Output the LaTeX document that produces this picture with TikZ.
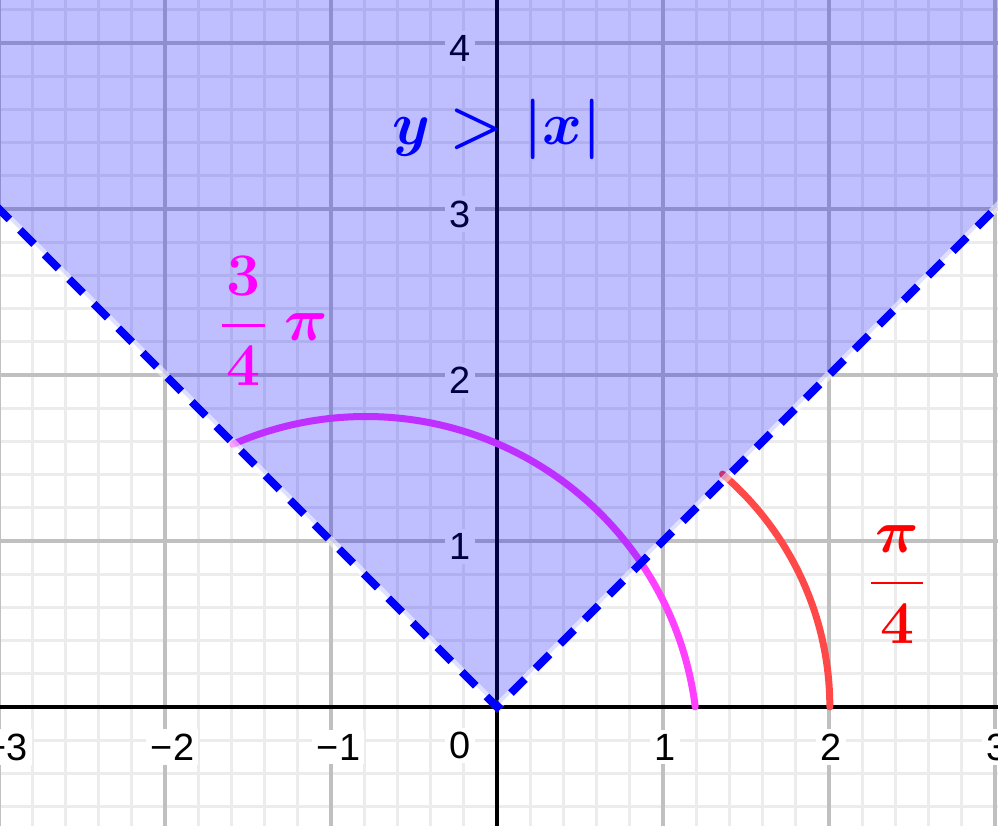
\documentclass[tikz,border=0pt]{standalone}
\usepackage{amsmath}
\usepackage{fontspec}
\setmainfont{Liberation Sans}
\definecolor{gridminor}{RGB}{236,236,236}
\definecolor{gridmajor}{RGB}{192,192,192}
\definecolor{arcmagenta}{RGB}{255,64,255}
\definecolor{arcred}{RGB}{255,72,72}
\definecolor{labmagenta}{RGB}{255,0,255}
\definecolor{labred}{RGB}{255,0,0}
\definecolor{labblue}{RGB}{0,0,255}

\begin{document}
\begin{tikzpicture}[x=2cm, y=2cm,
  minorgrid/.style={draw=gridminor, line width=1pt},
  majorgrid/.style={draw=gridmajor, line width=1.1pt},
  axisline/.style={draw=black, line width=1.1pt},
  ticklab/.style={fill=white, inner sep=1.5pt, font=\fontsize{13}{15}\selectfont},
  mathlab/.style={inner sep=0pt, font=\fontsize{20.5}{24}\selectfont\boldmath},
  curve/.style={line width=2.4pt, line cap=round},
  boundary/.style={draw=labblue, line width=2.7pt, dash pattern=on 6.8pt off 5.1pt}]
  \useasboundingbox (-2.994,-0.711) rectangle (3.018,4.259);
  \clip (-2.994,-0.711) rectangle (3.018,4.259);

  % grid and axes
  \draw[minorgrid, step=0.2] (-3.2,-0.8) grid (3.2,4.4);
  \draw[majorgrid, step=1] (-3.2,-0.8) grid (3.2,4.4);
  \draw[axisline] (-3.2,0) -- (3.2,0);
  \draw[axisline] (0,-0.8) -- (0,4.4);

  \foreach \i/\t in {-3/−3, -2/−2, -1/−1}
    \node[ticklab] (xl\i) at (\i+0.045,-0.241) {\t};
  \foreach \i in {1,2,3}
    \node[ticklab] (xl\i) at (\i+0.012,-0.241) {\i};
  \node[ticklab] (origin) at (-0.223,-0.233) {0};
  \foreach \i in {1,...,4}
    \node[ticklab] (yl\i) at (-0.223,\i-0.032) {\i};

  % the two arcs
  \draw[curve, draw=arcmagenta] ([shift={(-0.79,-0.25)}]7.2:2) arc[start angle=7.2, end angle=113.6, radius=2];
  \draw[curve, draw=arcred] ([shift={(0.16,0)}]0:1.845) arc[start angle=0, end angle=49.5, radius=1.845];

  % region y > |x|
  \fill[labblue, fill opacity=0.25] (0,0) -- (-4.5,4.5) -- (4.5,4.5) -- cycle;
  \draw[white, opacity=0.5, line width=2.7pt] (-4.5,4.5) -- (0,0) -- (4.5,4.5);
  \draw[boundary] (-4.5,4.5) -- (0,0) -- (4.5,4.5);

  \node[mathlab, text=labblue] (ineq) at (0,3.482) {$y > |x|$};
  \node[mathlab, text=labmagenta] (threequarter) at (-1.349,2.325)
    {$\genfrac{}{}{1pt}{0}{\mkern1.2mu 3\mkern1.2mu}{4}\:\pi$};
  \node[mathlab, text=labred] (quarter) at (2.410,0.735)
    {$\genfrac{}{}{1pt}{0}{\mkern1mu\pi\mkern1mu}{4}$};
\end{tikzpicture}
\end{document}
